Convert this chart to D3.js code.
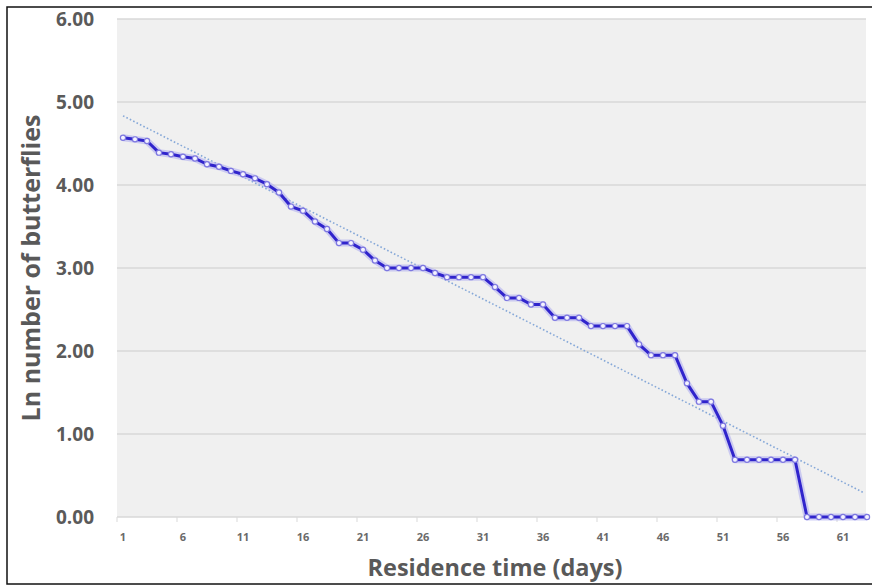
<!DOCTYPE html>
<html>
<head>
<meta charset="utf-8">
<script src="https://cdn.jsdelivr.net/npm/d3@7"></script>
<style>
  body { margin: 0; background: #ffffff; }
  svg { display: block; }
  .tick-y { font-family: "Open Sans", sans-serif; font-weight: 700; fill: #5a5a5a; }
  .tick-x { font-family: "Open Sans", sans-serif; font-weight: 700; fill: #6a6a6a; }
  .axes-label { font-family: "Open Sans", sans-serif; font-weight: 700; fill: #595959; }
</style>
</head>
<body>
<svg id="chart"></svg>
<script>
// residence time in days (category axis)
var days = d3.range(1, 64);

// ln of number of butterflies remaining
var lnButterflies = [
    4.57, 4.55, 4.53, 4.39, 4.37, 4.34, 4.32, 4.25, 4.22, 4.17,
    4.13, 4.08, 4.01, 3.91, 3.74, 3.69, 3.56, 3.47, 3.30, 3.30,
    3.22, 3.09, 3.00, 3.00, 3.00, 3.00, 2.94, 2.89, 2.89, 2.89,
    2.89, 2.77, 2.64, 2.64, 2.56, 2.56, 2.40, 2.40, 2.40, 2.30,
    2.30, 2.30, 2.30, 2.08, 1.95, 1.95, 1.95, 1.61, 1.39, 1.39,
    1.10, 0.69, 0.69, 0.69, 0.69, 0.69, 0.69, 0.00, 0.00, 0.00,
    0.00, 0.00, 0.00
];

// axis ticks
var yTicks = [0, 1, 2, 3, 4, 5, 6];
var xTickLabels = [1, 6, 11, 16, 21, 26, 31, 36, 41, 46, 51, 56, 61];

var W = 872, H = 585;
var svg = d3.select('#chart')
    .attr('width', W)
    .attr('height', H);

// plot area
var plot = {left: 117, right: 873, top: 19, bottom: 517};

var x = d3.scaleBand()
    .domain(days)
    .range([plot.left, plot.right]);
var y = d3.scaleLinear()
    .domain([0, 6])
    .range([plot.bottom, plot.top]);
function cx(d) { return x(d) + x.bandwidth() / 2; }

// outer frame
svg.append('rect')
    .attr('x', 7).attr('y', 7)
    .attr('width', 890).attr('height', 577)
    .attr('fill', '#ffffff')
    .attr('stroke', '#111111')
    .attr('stroke-width', 1.5);

// grey plot background
svg.append('rect')
    .attr('x', plot.left).attr('y', plot.top)
    .attr('width', 866 - plot.left).attr('height', plot.bottom - plot.top)
    .attr('fill', '#f0f0f0');

// horizontal gridlines
svg.append('g')
    .selectAll('line')
    .data(yTicks)
    .join('line')
    .attr('x1', plot.left).attr('x2', 866)
    .attr('y1', function(d) { return y(d); })
    .attr('y2', function(d) { return y(d); })
    .attr('stroke', '#d9d9d9')
    .attr('stroke-width', 1.5);

// y tick labels
svg.append('g')
    .selectAll('text')
    .data(yTicks)
    .join('text')
    .attr('class', 'tick-y')
    .attr('x', 94)
    .attr('y', function(d) { return y(d) + 7; })
    .attr('text-anchor', 'end')
    .style('font-size', '19px')
    .text(function(d) { return d3.format('.2f')(d); });

// small tick marks on the category axis, every 5 days
svg.append('g')
    .selectAll('line')
    .data(xTickLabels)
    .join('line')
    .attr('x1', function(d) { return x(d); })
    .attr('x2', function(d) { return x(d); })
    .attr('y1', plot.bottom)
    .attr('y2', plot.bottom + 5)
    .attr('stroke', '#d9d9d9')
    .attr('stroke-width', 1);

// x tick labels
svg.append('g')
    .selectAll('text')
    .data(xTickLabels)
    .join('text')
    .attr('class', 'tick-x')
    .attr('x', function(d) { return cx(d); })
    .attr('y', 541)
    .attr('text-anchor', 'middle')
    .style('font-size', '11px')
    .text(function(d) { return d; });

// linear trendline (least squares on the series)
var mx = d3.mean(days), my = d3.mean(lnButterflies);
var sxy = 0, sxx = 0;
for (var i = 0; i < days.length; i++) {
    sxy += (days[i] - mx) * (lnButterflies[i] - my);
    sxx += (days[i] - mx) * (days[i] - mx);
}
var slope = sxy / sxx;
var intercept = my - slope * mx;
var trend = [days[0], days[days.length - 1]];

svg.append('line')
    .attr('x1', cx(trend[0]))
    .attr('x2', cx(trend[1]) - 4)
    .attr('y1', y(intercept + slope * trend[0]))
    .attr('y2', y(intercept + slope * (trend[1] - 0.33)))
    .attr('stroke', '#86a8d8')
    .attr('stroke-width', 1.6)
    .attr('stroke-dasharray', '1.6,2.2');

// series line
var xy = [];
for (var j = 0; j < days.length; j++) {
    xy.push({x: days[j], y: lnButterflies[j]});
}
var line = d3.line()
    .x(function(d) { return cx(d.x); })
    .y(function(d) { return y(d.y); });

// soft glow under the line
svg.append('path')
    .datum(xy)
    .attr('fill', 'none')
    .attr('stroke', '#b3b0f0')
    .attr('stroke-opacity', 0.6)
    .attr('stroke-width', 7)
    .attr('stroke-linejoin', 'round')
    .attr('d', line);

svg.append('path')
    .datum(xy)
    .attr('fill', 'none')
    .attr('stroke', '#3024cc')
    .attr('stroke-width', 3)
    .attr('stroke-linejoin', 'round')
    .attr('d', line);

// markers
svg.append('g')
    .selectAll('circle')
    .data(xy)
    .join('circle')
    .attr('cx', function(d) { return cx(d.x); })
    .attr('cy', function(d) { return y(d.y); })
    .attr('r', 2.6)
    .attr('fill', '#f4f3ff')
    .attr('stroke', '#7d77e0')
    .attr('stroke-width', 1.2);

// axis titles
svg.append('text')
    .attr('class', 'axes-label')
    .attr('x', 495)
    .attr('y', 576)
    .attr('text-anchor', 'middle')
    .style('font-size', '23.5px')
    .text('Residence time (days)');

svg.append('text')
    .attr('class', 'axes-label')
    .attr('transform', 'translate(40,' + ((plot.top + plot.bottom) / 2) + ') rotate(-90)')
    .attr('text-anchor', 'middle')
    .style('font-size', '25px')
    .text('Ln number of butterflies');
</script>
</body>
</html>
